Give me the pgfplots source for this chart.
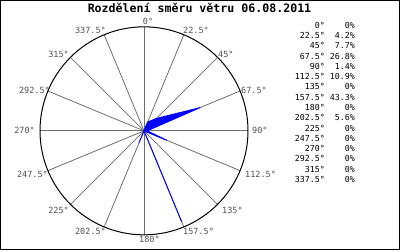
\documentclass[border=0pt]{standalone}
\usepackage{pgfplots}
\pgfplotsset{compat=1.18}
\usepackage{pgfplotstable}
\usepackage{fontspec}
\setmonofont{DejaVu Sans Mono}
\definecolor{spoke}{RGB}{110,110,110}
\definecolor{lbl}{RGB}{80,80,80}
\pgfplotstableread{
a v
0 0
22.5 4.2
45 7.7
67.5 26.8
90 1.4
112.5 10.9
135 0
157.5 43.3
180 0
202.5 5.6
225 0
247.5 0
270 0
292.5 0
315 0
337.5 0
}\winddata
\begin{document}
\begin{tikzpicture}
\begin{axis}[
  scale only axis, width=400pt, height=250pt,
  xmin=0, xmax=400, ymin=0, ymax=250, y dir=reverse,
  hide axis, clip=false,
]
\path (axis cs:0,0) (axis cs:400,250);
\draw[black, line width=1pt] (axis cs:0.5,0.5) rectangle (axis cs:399.5,249.5);
\pgfplotsinvokeforeach{0,22.5,...,337.5}{
  \draw[spoke, line width=0.8pt] (axis cs:144,130.5) -- (axis cs:{144+104*sin(#1)},{130.5-104*cos(#1)});
}
\draw[black, line width=1pt] (axis cs:144,130.5) circle[radius=104];
\addplot[fill=blue, draw=blue, line width=0.9pt] table[
  x expr={144+2.27*\thisrow{v}*sin(\thisrow{a})},
  y expr={130.5-2.27*\thisrow{v}*cos(\thisrow{a})}] {\winddata} -- cycle;
% title
\node[font=\ttfamily\bfseries\fontsize{11.6}{13}\selectfont, anchor=base] at (axis cs:199.5,12.3) {Rozdělení směru větru 06.08.2011};
% direction labels
\begin{scope}[every node/.style={font=\ttfamily\fontsize{8.5}{10}\selectfont, text=lbl, inner sep=0pt}]
\node[anchor=base west] at (axis cs:142.7,24) {0°};
\node[anchor=base west] at (axis cs:183,33) {22.5°};
\node[anchor=base west] at (axis cs:218,57) {45°};
\node[anchor=base west] at (axis cs:241,93) {67.5°};
\node[anchor=base west] at (axis cs:252,133) {90°};
\node[anchor=base west] at (axis cs:245,177) {112.5°};
\node[anchor=base west] at (axis cs:222,213) {135°};
\node[anchor=base west] at (axis cs:183,234) {157.5°};
\node[anchor=base west] at (axis cs:139,242) {180°};
\node[anchor=base east] at (axis cs:106,234) {202.5°};
\node[anchor=base east] at (axis cs:69,213) {225°};
\node[anchor=base east] at (axis cs:48,177) {247.5°};
\node[anchor=base east] at (axis cs:35,133) {270°};
\node[anchor=base east] at (axis cs:50,93) {292.5°};
\node[anchor=base east] at (axis cs:69,57) {315°};
\node[anchor=base east] at (axis cs:106,33) {337.5°};
\end{scope}
% table
\node[anchor=base east, inner sep=0pt, font=\ttfamily\fontsize{8.3}{10.27}\selectfont] at (axis cs:355,28) {%
\begin{tabular}[t]{@{}r@{\ }r@{}}
0° & 0\% \\
22.5° & 4.2\% \\
45° & 7.7\% \\
67.5° & 26.8\% \\
90° & 1.4\% \\
112.5° & 10.9\% \\
135° & 0\% \\
157.5° & 43.3\% \\
180° & 0\% \\
202.5° & 5.6\% \\
225° & 0\% \\
247.5° & 0\% \\
270° & 0\% \\
292.5° & 0\% \\
315° & 0\% \\
337.5° & 0\% \\
\end{tabular}};
\end{axis}
\end{tikzpicture}
\end{document}
